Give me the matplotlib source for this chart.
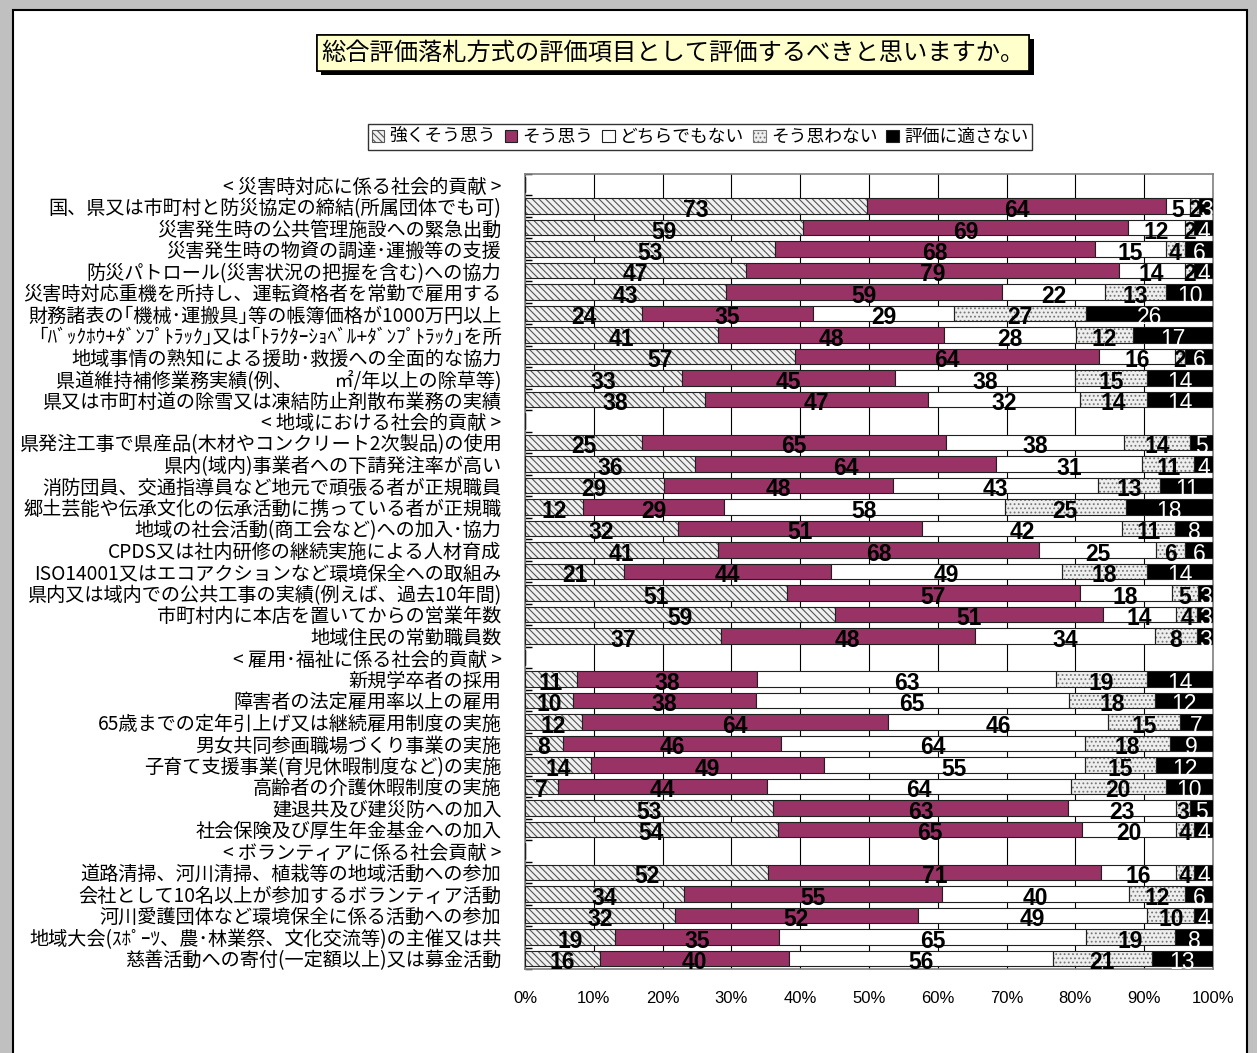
import numpy as np
import matplotlib.pyplot as plt
import matplotlib.patheffects as pe
from matplotlib.patches import Rectangle

plt.rcParams['font.family'] = ['Noto Sans CJK JP', 'DejaVu Sans']
plt.rcParams['hatch.linewidth'] = 0.8

labels = [
    '< 災害時対応に係る社会的貢献 >',
    '国、県又は市町村と防災協定の締結(所属団体でも可)',
    '災害発生時の公共管理施設への緊急出動',
    '災害発生時の物資の調達･運搬等の支援',
    '防災パトロール(災害状況の把握を含む)への協力',
    '災害時対応重機を所持し、運転資格者を常勤で雇用する',
    '財務諸表の｢機械･運搬具｣等の帳簿価格が1000万円以上',
    '｢ﾊﾞｯｸﾎｳ+ﾀﾞﾝﾌﾟﾄﾗｯｸ｣又は｢ﾄﾗｸﾀｰｼｮﾍﾞﾙ+ﾀﾞﾝﾌﾟﾄﾗｯｸ｣を所',
    '地域事情の熟知による援助･救援への全面的な協力',
    '県道維持補修業務実績(例、　　 ㎡/年以上の除草等)',
    '県又は市町村道の除雪又は凍結防止剤散布業務の実績',
    '< 地域における社会的貢献 >',
    '県発注工事で県産品(木材やコンクリート2次製品)の使用',
    '県内(域内)事業者への下請発注率が高い',
    '消防団員、交通指導員など地元で頑張る者が正規職員',
    '郷土芸能や伝承文化の伝承活動に携っている者が正規職',
    '地域の社会活動(商工会など)への加入･協力',
    'CPDS又は社内研修の継続実施による人材育成',
    'ISO14001又はエコアクションなど環境保全への取組み',
    '県内又は域内での公共工事の実績(例えば、過去10年間)',
    '市町村内に本店を置いてからの営業年数',
    '地域住民の常勤職員数',
    '< 雇用･福祉に係る社会的貢献 >',
    '新規学卒者の採用',
    '障害者の法定雇用率以上の雇用',
    '65歳までの定年引上げ又は継続雇用制度の実施',
    '男女共同参画職場づくり事業の実施',
    '子育て支援事業(育児休暇制度など)の実施',
    '高齢者の介護休暇制度の実施',
    '建退共及び建災防への加入',
    '社会保険及び厚生年金基金への加入',
    '< ボランティアに係る社会貢献 >',
    '道路清掃、河川清掃、植栽等の地域活動への参加',
    '会社として10名以上が参加するボランティア活動',
    '河川愛護団体など環境保全に係る活動への参加',
    '地域大会(ｽﾎﾟｰﾂ、農･林業祭、文化交流等)の主催又は共',
    '慈善活動への寄付(一定額以上)又は募金活動',
]

series_names = ['強くそう思う', 'そう思う', 'どちらでもない', 'そう思わない', '評価に適さない']

strong = [None, 73, 59, 53, 47, 43, 24, 41, 57, 33, 38,
          None, 25, 36, 29, 12, 32, 41, 21, 51, 59, 37,
          None, 11, 10, 12, 8, 14, 7, 53, 54,
          None, 52, 34, 32, 19, 16]
agree = [None, 64, 69, 68, 79, 59, 35, 48, 64, 45, 47,
         None, 65, 64, 48, 29, 51, 68, 44, 57, 51, 48,
         None, 38, 38, 64, 46, 49, 44, 63, 65,
         None, 71, 55, 52, 35, 40]
neutral = [None, 5, 12, 15, 14, 22, 29, 28, 16, 38, 32,
           None, 38, 31, 43, 58, 42, 25, 49, 18, 14, 34,
           None, 63, 65, 46, 64, 55, 64, 23, 20,
           None, 16, 40, 49, 65, 56]
disagree = [None, 2, 2, 4, 2, 13, 27, 12, 2, 15, 14,
            None, 14, 11, 13, 25, 11, 6, 18, 5, 4, 8,
            None, 19, 18, 15, 18, 15, 20, 3, 4,
            None, 4, 12, 10, 19, 21]
unsuitable = [None, 3, 4, 6, 4, 10, 26, 17, 6, 14, 14,
              None, 5, 4, 11, 18, 8, 6, 14, 3, 3, 3,
              None, 14, 12, 7, 9, 12, 10, 5, 4,
              None, 4, 6, 4, 8, 13]

# style per series: face, hatch, hatch colour, text colour, text weight
styles = [
    ('#f0f0f0', '\\\\\\\\\\', '#555555', 'black', 'bold'),
    ('#993366', None, None, 'black', 'bold'),
    ('white', None, None, 'black', 'bold'),
    ('#eeeeee', '....', '#777777', 'black', 'bold'),
    ('black', None, None, 'white', 'normal'),
]

vals = np.array([[np.nan if v is None else v for v in s]
                 for s in [strong, agree, neutral, disagree, unsuitable]], dtype=float)
totals = np.nansum(vals, axis=0)
totals[totals == 0] = 1
frac = vals / totals

fig = plt.figure(figsize=(12.57, 10.53), dpi=100, facecolor='#c0c0c0')
fig.patches.append(Rectangle((13 / 1257, -0.05), 1234 / 1257, 1.05 - 10 / 1053,
                             transform=fig.transFigure, facecolor='white',
                             edgecolor='black', linewidth=1.5, zorder=-10))

ax = fig.add_axes([525 / 1257, 1 - 969 / 1053, 688 / 1257, 795 / 1053])
y = np.arange(len(labels))
left = np.zeros(len(labels))
handles = []
for i, name in enumerate(series_names):
    face, hatch, hcol, tcol, tw = styles[i]
    w = np.nan_to_num(frac[i])
    if hatch:
        ax.barh(y, w, left=left, height=0.72, color=face, hatch=hatch,
                edgecolor=hcol, linewidth=0, zorder=2)
        ax.barh(y, w, left=left, height=0.72, facecolor='none',
                edgecolor='#202020', linewidth=0.8, zorder=3)
        handles.append(Rectangle((0, 0), 1, 1, facecolor=face, hatch=hatch,
                                 edgecolor=hcol, linewidth=0.8))
    else:
        ax.barh(y, w, left=left, height=0.72, color=face,
                edgecolor='#202020', linewidth=0.8, zorder=3)
        handles.append(Rectangle((0, 0), 1, 1, facecolor=face,
                                 edgecolor='#202020', linewidth=0.8))
    for j in range(len(labels)):
        if not np.isnan(vals[i, j]):
            ax.text(left[j] + w[j] / 2, y[j] + 0.2, f'{int(vals[i, j])}',
                    ha='center', va='center', fontsize=16.5, fontweight=tw,
                    color=tcol, family=['Liberation Sans Narrow', 'Liberation Sans'],
                    zorder=5)
    left += w

ax.set_xlim(0, 1)
ax.set_ylim(len(labels) - 0.5, -0.5)
ax.set_xticks(np.arange(0, 1.01, 0.1))
ax.set_xticklabels([f'{int(round(v * 100))}%' for v in np.arange(0, 1.01, 0.1)],
                   fontsize=12, family=['Liberation Sans', 'DejaVu Sans'])
ax.tick_params(axis='x', length=0, pad=16)
ax.grid(axis='x', color='black', linewidth=0.8, zorder=0)
ax.set_axisbelow(True)

ax.set_yticks(np.arange(-0.5, len(labels), 1))
ax.set_yticklabels([])
ax.tick_params(axis='y', which='major', direction='in', length=5, width=1, color='black')
ax.set_yticks(y, minor=True)
ax.set_yticklabels(labels, minor=True, fontsize=13.8)
ax.tick_params(axis='y', which='minor', length=0, pad=17)
for s in ax.spines.values():
    s.set_color('#808080')
    s.set_linewidth(1.2)

# title box with shadow
t = fig.text(673 / 1257, 1 - 53 / 1053, '総合評価落札方式の評価項目として評価するべきと思いますか。',
             ha='center', va='center', fontsize=17.5,
             bbox=dict(boxstyle='square,pad=0.2', facecolor='#ffffcc',
                       edgecolor='black', linewidth=1.2))
t.get_bbox_patch().set_path_effects([pe.withSimplePatchShadow(offset=(3, -3),
                                     shadow_rgbFace='black', alpha=1), pe.Normal()])

leg = fig.legend(handles, series_names, loc='center', ncol=5,
                 bbox_to_anchor=(700 / 1257, 1 - 137 / 1053), fontsize=12.8,
                 frameon=True, fancybox=False, edgecolor='black',
                 handlelength=0.7, handleheight=0.7, handletextpad=0.3,
                 columnspacing=0.5, borderpad=0.2)
leg.get_frame().set_linewidth(1.0)

fig.savefig('out.png', dpi=100, facecolor=fig.get_facecolor())
